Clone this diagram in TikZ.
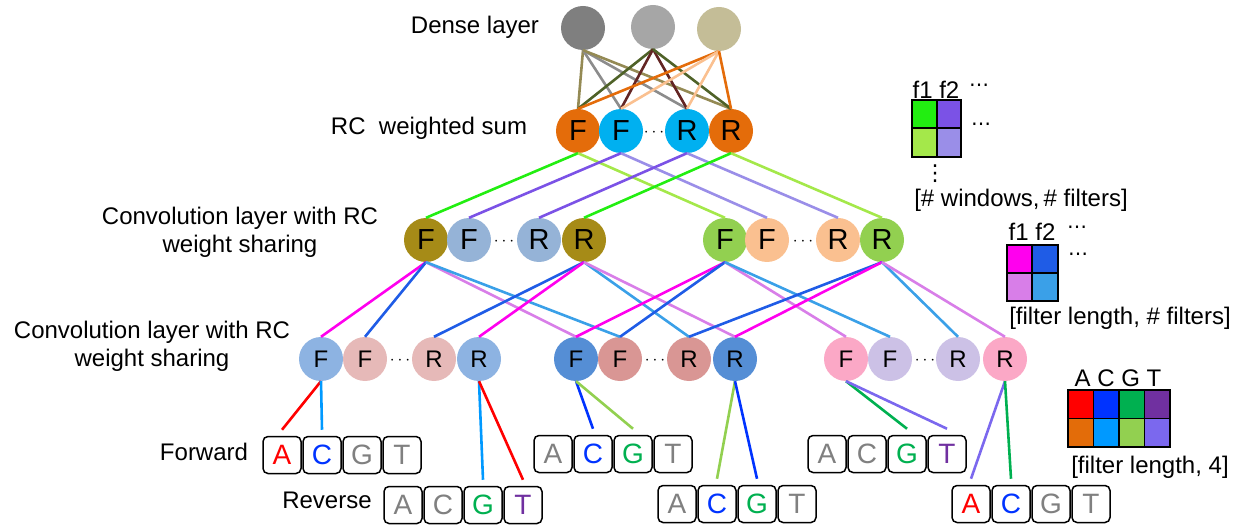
\documentclass[tikz,border=0pt]{standalone}
\usepackage{fontspec}
\setmainfont{Liberation Sans}
\newfontfamily\dvfont{DejaVu Sans}
\definecolor{dA}{HTML}{7F7F7F}
\definecolor{dB}{HTML}{A6A6A6}
\definecolor{dC}{HTML}{C4BD97}
\definecolor{orng}{HTML}{E46C0A}
\definecolor{cyn}{HTML}{00B0F0}
\definecolor{olv}{HTML}{A68B17}
\definecolor{bgy}{HTML}{95B3D7}
\definecolor{grn}{HTML}{92D050}
\definecolor{pch}{HTML}{FAC090}
\definecolor{lbl}{HTML}{8DB3E2}
\definecolor{pnk}{HTML}{E6B9B8}
\definecolor{mbl}{HTML}{558ED5}
\definecolor{rse}{HTML}{D99694}
\definecolor{ppk}{HTML}{FBA8C6}
\definecolor{lav}{HTML}{CCC1E6}
\definecolor{khk}{HTML}{948A54}
\definecolor{gry}{HTML}{8C8C8C}
\definecolor{dog}{HTML}{4F6228}
\definecolor{mrn}{HTML}{632523}
\definecolor{lor}{HTML}{FAC090}
\definecolor{bgr}{HTML}{22EE11}
\definecolor{lgr}{HTML}{A4E84A}
\definecolor{prp}{HTML}{7B52E6}
\definecolor{lpr}{HTML}{9A8EE8}
\definecolor{mag}{HTML}{FF00EE}
\definecolor{blu}{HTML}{1F5CE6}
\definecolor{lvi}{HTML}{D87EE8}
\definecolor{lbu}{HTML}{3AA0E8}
\definecolor{nA}{HTML}{FF0000}
\definecolor{nC}{HTML}{0033FF}
\definecolor{nG}{HTML}{00B050}
\definecolor{nT}{HTML}{7030A0}
\definecolor{wA}{HTML}{E36C09}
\definecolor{wC}{HTML}{0099FF}
\definecolor{wG}{HTML}{92D050}
\definecolor{wT}{HTML}{7B68EE}
\definecolor{ltr}{HTML}{808080}
\newcommand\seqrow[7]{%
  \node[bx,text=#4] (#1A) at (#2,#3) {A};
  \node[bx,text=#5] (#1C) at ({#2+40},#3) {C};
  \node[bx,text=#6] (#1G) at ({#2+80},#3) {G};
  \node[bx,text=#7] (#1T) at ({#2+120},#3) {T};}
\begin{document}
\begin{tikzpicture}[x=1pt,y=-1pt,
  nd/.style={circle,minimum size=44pt,inner sep=0pt,font=\fontsize{29}{29}\selectfont},
  ndb/.style={nd,font=\fontsize{24}{24}\selectfont},
  dts/.style={inner sep=0pt,font=\fontsize{18}{18}\selectfont},
  ldts/.style={inner sep=0pt,font=\dvfont\fontsize{20}{20}\selectfont},
  bx/.style={draw=black,fill=white,line width=1.5pt,rounded corners=5pt,minimum width=38pt,minimum height=37pt,inner sep=0pt,font=\fontsize{28}{28}\selectfont},
  lab/.style={inner sep=0pt,font=\fontsize{24}{28}\selectfont,align=center},
  ln/.style={line width=2.6pt},
  grid/.style={draw=black,line width=1.5pt}
]
\useasboundingbox (0,0) rectangle (1247,529);

% labels
\node[lab] (tdense) at (475,27) {Dense layer};
\node[lab] (tsum) at (429,128) {RC\ \ weighted sum};
\node[lab] (tconv1) at (240,232) {Convolution layer with RC\\weight sharing};
\node[lab] (tconv2) at (152,346) {Convolution layer with RC\\weight sharing};
\node[lab] (tfwd) at (204,452) {Forward};
\node[lab] (trev) at (327,500) {Reverse};

% dense
\node[nd,fill=dA] (d1) at (583,28) {};
\node[nd,fill=dB] (d2) at (653,27) {};
\node[nd,fill=dC] (d3) at (719,29) {};

% RC sum
\node[nd,fill=orng] (sF1) at (578,131) {F};
\node[nd,fill=cyn] (sF2) at (621,131) {F};
\node[dts] (sdots) at (654,133) {$\cdots$};
\node[nd,fill=cyn] (sR2) at (687,131) {R};
\node[nd,fill=orng] (sR1) at (731,131) {R};

% conv 1
\node[nd,fill=olv] (aF1) at (426,240) {F};
\node[nd,fill=bgy] (aF2) at (469,240) {F};
\node[dts] (adots) at (504,242) {$\cdots$};
\node[nd,fill=bgy] (aR2) at (539,240) {R};
\node[nd,fill=olv] (aR1) at (584,240) {R};
\node[nd,fill=grn] (bF1) at (725,240) {F};
\node[nd,fill=pch] (bF2) at (767,240) {F};
\node[dts] (bdots) at (803,242) {$\cdots$};
\node[nd,fill=pch] (bR2) at (838,240) {R};
\node[nd,fill=grn] (bR1) at (882,240) {R};

% conv 2
\node[ndb,fill=lbl] (AF1) at (321,359) {F};
\node[ndb,fill=pnk] (AF2) at (365,359) {F};
\node[dts] (Adots) at (400,361) {$\cdots$};
\node[ndb,fill=pnk] (AR2) at (434,359) {R};
\node[ndb,fill=lbl] (AR1) at (479,359) {R};
\node[ndb,fill=mbl] (BF1) at (576,359) {F};
\node[ndb,fill=rse] (BF2) at (620,359) {F};
\node[dts] (Bdots) at (655,361) {$\cdots$};
\node[ndb,fill=rse] (BR2) at (689,359) {R};
\node[ndb,fill=mbl] (BR1) at (735,359) {R};
\node[ndb,fill=ppk] (CF1) at (846,359) {F};
\node[ndb,fill=lav] (CF2) at (890,359) {F};
\node[dts] (Cdots) at (925,361) {$\cdots$};
\node[ndb,fill=lav] (CR2) at (958,359) {R};
\node[ndb,fill=ppk] (CR1) at (1005,359) {R};

% sequences
\seqrow{fa}{282}{455}{nA}{nC}{ltr}{ltr}
\seqrow{ra}{403}{505}{ltr}{ltr}{nG}{nT}
\seqrow{fb}{553}{454}{ltr}{nC}{nG}{ltr}
\seqrow{rb}{677}{504}{ltr}{nC}{nG}{ltr}
\seqrow{fc}{827}{454}{ltr}{ltr}{nG}{nT}
\seqrow{rc}{971}{504}{nA}{nC}{ltr}{ltr}

% dense connections
\draw[ln,khk] (d1.south) -- (sF1.north);
\draw[ln,gry] (d1.south) -- (sF2.north);
\draw[ln,gry] (d1.south) -- (sR2.north);
\draw[ln,khk] (d1.south) -- (sR1.north);
\draw[ln,dog] (d2.south) -- (sF1.north);
\draw[ln,mrn] (d2.south) -- (sF2.north);
\draw[ln,mrn] (d2.south) -- (sR2.north);
\draw[ln,dog] (d2.south) -- (sR1.north);
\draw[ln,orng] (d3.south) -- (sF1.north);
\draw[ln,lor] (d3.south) -- (sF2.north);
\draw[ln,lor] (d3.south) -- (sR2.north);
\draw[ln,orng] (d3.south) -- (sR1.north);

% sum -> conv1
\draw[ln,bgr] (sF1.south) -- (aF1.north);
\draw[ln,lgr] (sF1.south) -- (bF1.north);
\draw[ln,prp] (sF2.south) -- (aF2.north);
\draw[ln,lpr] (sF2.south) -- (bF2.north);
\draw[ln,prp] (sR2.south) -- (aR2.north);
\draw[ln,lpr] (sR2.south) -- (bR2.north);
\draw[ln,bgr] (sR1.south) -- (aR1.north);
\draw[ln,lgr] (sR1.south) -- (bR1.north);

% conv1 -> conv2
\draw[ln,mag] (aF1.south) -- (AF1.north);
\draw[ln,blu] (aF1.south) -- (AF2.north);
\draw[ln,lvi] (aF1.south) -- (BF1.north);
\draw[ln,lbu] (aF1.south) -- (BF2.north);
\draw[ln,blu] (aR1.south) -- (AR2.north);
\draw[ln,mag] (aR1.south) -- (AR1.north);
\draw[ln,lbu] (aR1.south) -- (BR2.north);
\draw[ln,lvi] (aR1.south) -- (BR1.north);
\draw[ln,mag] (bF1.south) -- (BF1.north);
\draw[ln,blu] (bF1.south) -- (BF2.north);
\draw[ln,lvi] (bF1.south) -- (CF1.north);
\draw[ln,lbu] (bF1.south) -- (CF2.north);
\draw[ln,blu] (bR1.south) -- (BR2.north);
\draw[ln,mag] (bR1.south) -- (BR1.north);
\draw[ln,lbu] (bR1.south) -- (CR2.north);
\draw[ln,lvi] (bR1.south) -- (CR1.north);

% conv2 -> sequences
\draw[ln,nA] (AF1.south) -- ([yshift=6pt]faA.north);
\draw[ln,wC] (AF1.south) -- ([yshift=6pt]faC.north);
\draw[ln,wC] (AR1.south) -- ([yshift=6pt]raG.north);
\draw[ln,nA] (AR1.south) -- ([yshift=6pt]raT.north);
\draw[ln,nC] (BF1.south) -- ([yshift=6pt]fbC.north);
\draw[ln,wG] (BF1.south) -- ([yshift=6pt]fbG.north);
\draw[ln,wG] (BR1.south) -- ([yshift=6pt]rbC.north);
\draw[ln,nC] (BR1.south) -- ([yshift=6pt]rbG.north);
\draw[ln,nG] (CF1.south) -- ([yshift=6pt]fcG.north);
\draw[ln,wT] (CF1.south) -- ([yshift=6pt]fcT.north);
\draw[ln,wT] (CR1.south) -- ([yshift=6pt]rcA.north);
\draw[ln,nG] (CR1.south) -- ([yshift=6pt]rcC.north);

% legend 1
\node[lab] (l1f) at (936,90) {f1 f2};
\node[ldts] (l1d1) at (979,88) {⋯};
\fill[bgr] (912,100) rectangle (937,128);
\fill[prp] (937,100) rectangle (961,128);
\fill[lgr] (912,128) rectangle (937,157);
\fill[lpr] (937,128) rectangle (961,157);
\draw[grid] (912,100) rectangle (961,157) (937,100) -- (937,157) (912,128) -- (961,128);
\node[ldts] (l1d2) at (981,127) {⋯};
\node[ldts,font=\dvfont\fontsize{22}{22}\selectfont] (l1d3) at (935,174) {⋮};
\node[lab] (l1t) at (1021,200) {[\# windows,\,\# filters]};

% legend 2
\node[lab] (l2f) at (1032,232) {f1 f2};
\node[ldts] (l2d1) at (1077,230) {⋯};
\fill[mag] (1007,245) rectangle (1032,273);
\fill[blu] (1032,245) rectangle (1058,273);
\fill[lvi] (1007,273) rectangle (1032,301);
\fill[lbu] (1032,273) rectangle (1058,301);
\draw[grid] (1007,245) rectangle (1058,301) (1032,245) -- (1032,301) (1007,273) -- (1058,273);
\node[ldts] (l2d2) at (1078,257) {⋯};
\node[lab] (l2t) at (1120,318) {[filter length, \# filters]};

% legend 3
\node[lab] (l3f) at (1118,378) {A C G T};
\fill[nA] (1068,390) rectangle (1093.5,418.5);
\fill[nC] (1093.5,390) rectangle (1119,418.5);
\fill[nG] (1119,390) rectangle (1144.5,418.5);
\fill[nT] (1144.5,390) rectangle (1170,418.5);
\fill[wA] (1068,418.5) rectangle (1093.5,447);
\fill[wC] (1093.5,418.5) rectangle (1119,447);
\fill[wG] (1119,418.5) rectangle (1144.5,447);
\fill[wT] (1144.5,418.5) rectangle (1170,447);
\draw[grid] (1068,390) rectangle (1170,447) (1093.5,390) -- (1093.5,447) (1119,390) -- (1119,447) (1144.5,390) -- (1144.5,447) (1068,418.5) -- (1170,418.5);
\node[lab] (l3t) at (1150,467) {[filter length, 4]};
\end{tikzpicture}
\end{document}
